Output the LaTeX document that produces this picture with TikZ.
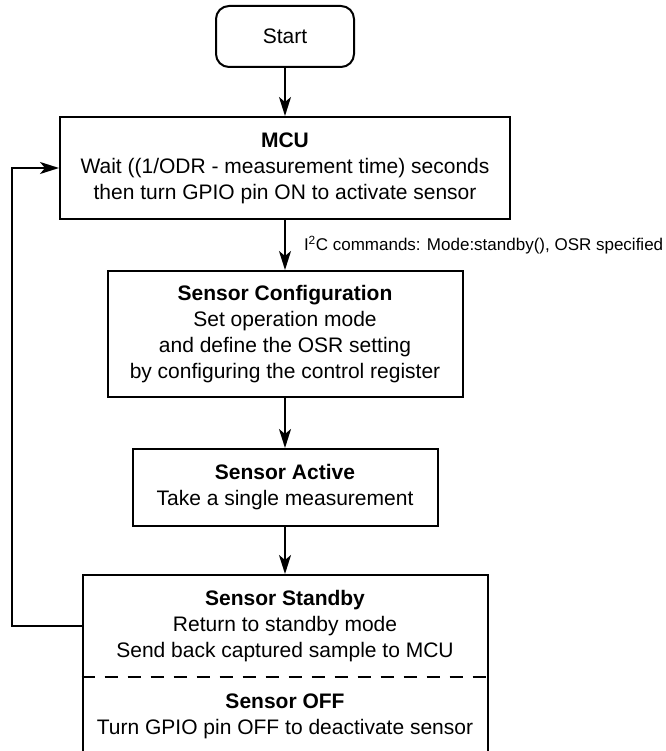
\documentclass[tikz,border=0pt]{standalone}
\usepackage{fontspec}
\setmainfont{Liberation Sans}
\usetikzlibrary{arrows.meta, positioning}

\begin{document}
\begin{tikzpicture}[x=1pt, y=1pt, >={Stealth[length=19pt, width=12pt, inset=5pt]}, line width=2pt,
    caption/.style={align=center, font=\fontsize{21}{26}\selectfont, inner sep=0pt},
    stage/.style={caption, draw},
    flow/.style={->}]
    % Fix the page size
    \path[use as bounding box, clip] (0,0) rectangle (665,-751);

    % Define the stages
    \node[stage, rounded corners=13pt, minimum width=138pt, minimum height=61pt] (Start) at (285,-36.5) {Start};
    \node[stage, minimum width=450pt, minimum height=102pt] (MCU) at (285,-168)
        {\textbf{MCU}\\Wait ((1/ODR - measurement time) seconds\\then turn GPIO pin ON to activate sensor};
    \node[stage, minimum width=355pt, minimum height=126pt] (Config) at (285,-334)
        {\textbf{Sensor Configuration}\\Set operation mode\\and define the OSR setting\\by configuring the control register};
    \node[stage, minimum width=305pt, minimum height=77pt] (Active) at (285,-487.5)
        {\textbf{Sensor Active}\\Take a single measurement};
    \node[stage, minimum width=405pt, minimum height=200pt] (Standby) at (285,-675) {};
    \node[caption] (StandbyText) at (285,-626)
        {\textbf{Sensor Standby}\\Return to standby mode\\Send back captured sample to MCU};
    \node[caption] (OffText) at (285,-716)
        {\textbf{Sensor OFF}\\Turn GPIO pin OFF to deactivate sensor};

    % Dashed divider inside the standby box
    \coordinate (Divider) at (0,-677);
    \draw[line width=1.5pt, dash pattern=on 13pt off 10pt] (Standby.west |- Divider) -- (Standby.east |- Divider);

    % Draw the flow
    \draw[flow] (Start) -- (MCU);
    \draw[flow] (MCU) -- node[right=18pt, inner sep=0pt, font=\fontsize{17}{20}\selectfont] (Cmd)
        {I\textsuperscript{2}C commands: Mode:standby(), OSR specified} (Config);
    \draw[flow] (Config) -- (Active);
    \draw[flow] (Active) -- (Standby);

    % Loop back to the MCU
    \coordinate (Loop) at (12,0);
    \draw[flow] (Standby.west |- StandbyText) -- (Loop |- StandbyText) -- (Loop |- MCU) -- (MCU);
\end{tikzpicture}
\end{document}
